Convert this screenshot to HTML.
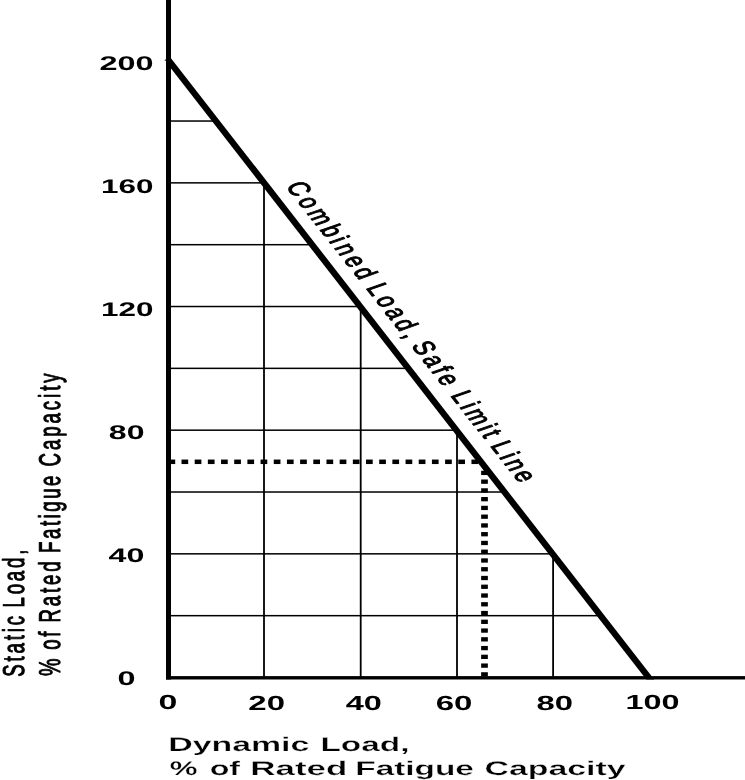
<!DOCTYPE html>
<html lang="en">
<head>
<meta charset="utf-8">
<title>Combined Load, Safe Limit Line</title>
<style>
html,body{margin:0;padding:0;background:#fff;}
body{width:745px;height:780px;overflow:hidden;font-family:"Liberation Sans",Arial,Helvetica,sans-serif;}
svg{display:block;}
text{white-space:pre;text-rendering:geometricPrecision;}
</style>
</head>
<body>
<svg width="745" height="780" viewBox="0 0 745 780">
<defs><clipPath id="plot"><rect x="166.0" y="0" width="579.0" height="679.5"/></clipPath></defs>
<rect x="0" y="0" width="745" height="780" fill="#fff"/>
<g fill="#000">
<rect x="170.00" y="614.92" width="430.65" height="1.5"/>
<rect x="170.00" y="553.09" width="382.56" height="1.5"/>
<rect x="170.00" y="491.26" width="334.46" height="1.5"/>
<rect x="170.00" y="429.43" width="286.36" height="1.5"/>
<rect x="170.00" y="367.60" width="238.26" height="1.5"/>
<rect x="170.00" y="305.77" width="190.17" height="1.5"/>
<rect x="170.00" y="243.94" width="142.07" height="1.5"/>
<rect x="170.00" y="182.11" width="93.97" height="1.5"/>
<rect x="170.00" y="120.28" width="45.88" height="1.5"/>
<rect x="263.10" y="182.90" width="1.8" height="494.20"/>
<rect x="359.80" y="307.21" width="1.8" height="369.89"/>
<rect x="456.10" y="431.00" width="1.8" height="246.10"/>
<rect x="552.20" y="554.54" width="1.8" height="122.56"/>
<rect x="166.0" y="0" width="5.0" height="679.5"/>
<rect x="166.0" y="676.1" width="579.0" height="3.40"/>
<rect x="164.8" y="59.6" width="2" height="1.1"/>
</g>
<g clip-path="url(#plot)"><line x1="167.70" y1="59.10" x2="651.75" y2="681.36" stroke="#000" stroke-width="6.35"/></g>
<g fill="#000">
<rect x="170.0" y="459.55" width="5.20" height="4.5"/>
<rect x="181.50" y="459.55" width="6.7" height="4.5"/>
<rect x="194.68" y="459.55" width="6.7" height="4.5"/>
<rect x="207.86" y="459.55" width="6.7" height="4.5"/>
<rect x="221.04" y="459.55" width="6.7" height="4.5"/>
<rect x="234.22" y="459.55" width="6.7" height="4.5"/>
<rect x="247.40" y="459.55" width="6.7" height="4.5"/>
<rect x="260.58" y="459.55" width="6.7" height="4.5"/>
<rect x="273.76" y="459.55" width="6.7" height="4.5"/>
<rect x="286.94" y="459.55" width="6.7" height="4.5"/>
<rect x="300.12" y="459.55" width="6.7" height="4.5"/>
<rect x="313.30" y="459.55" width="6.7" height="4.5"/>
<rect x="326.48" y="459.55" width="6.7" height="4.5"/>
<rect x="339.66" y="459.55" width="6.7" height="4.5"/>
<rect x="352.84" y="459.55" width="6.7" height="4.5"/>
<rect x="366.02" y="459.55" width="6.7" height="4.5"/>
<rect x="379.20" y="459.55" width="6.7" height="4.5"/>
<rect x="392.38" y="459.55" width="6.7" height="4.5"/>
<rect x="405.56" y="459.55" width="6.7" height="4.5"/>
<rect x="418.74" y="459.55" width="6.7" height="4.5"/>
<rect x="431.92" y="459.55" width="6.7" height="4.5"/>
<rect x="445.10" y="459.55" width="6.7" height="4.5"/>
<rect x="458.28" y="459.55" width="6.7" height="4.5"/>
<rect x="471.46" y="459.55" width="6.7" height="4.5"/>
<rect x="481.15" y="470.74" width="6.7" height="4.3"/>
<rect x="481.15" y="479.50" width="6.7" height="4.3"/>
<rect x="481.15" y="488.26" width="6.7" height="4.3"/>
<rect x="481.15" y="497.02" width="6.7" height="4.3"/>
<rect x="481.15" y="505.78" width="6.7" height="4.3"/>
<rect x="481.15" y="514.54" width="6.7" height="4.3"/>
<rect x="481.15" y="523.30" width="6.7" height="4.3"/>
<rect x="481.15" y="532.06" width="6.7" height="4.3"/>
<rect x="481.15" y="540.82" width="6.7" height="4.3"/>
<rect x="481.15" y="549.58" width="6.7" height="4.3"/>
<rect x="481.15" y="558.34" width="6.7" height="4.3"/>
<rect x="481.15" y="567.10" width="6.7" height="4.3"/>
<rect x="481.15" y="575.86" width="6.7" height="4.3"/>
<rect x="481.15" y="584.62" width="6.7" height="4.3"/>
<rect x="481.15" y="593.38" width="6.7" height="4.3"/>
<rect x="481.15" y="602.14" width="6.7" height="4.3"/>
<rect x="481.15" y="610.90" width="6.7" height="4.3"/>
<rect x="481.15" y="619.66" width="6.7" height="4.3"/>
<rect x="481.15" y="628.42" width="6.7" height="4.3"/>
<rect x="481.15" y="637.18" width="6.7" height="4.3"/>
<rect x="481.15" y="645.94" width="6.7" height="4.3"/>
<rect x="481.15" y="654.70" width="6.7" height="4.3"/>
<rect x="481.15" y="663.46" width="6.7" height="4.3"/>
<rect x="481.15" y="672.22" width="6.7" height="4.3"/>
</g>
<g font-family="'Liberation Sans', Arial, Helvetica, sans-serif" fill="#000">
<g font-size="19.8" font-weight="700">
<text transform="translate(99.57 69.50) scale(1.6370 1)">200</text>
<text transform="translate(100.92 192.70) scale(1.5888 1)">160</text>
<text transform="translate(100.92 315.90) scale(1.5888 1)">120</text>
<text transform="translate(108.87 439.00) scale(1.6187 1)">80</text>
<text transform="translate(108.62 562.30) scale(1.6309 1)">40</text>
<text transform="translate(117.60 685.20) scale(1.6374 1)">0</text>
</g>
<g font-size="20.4" font-weight="700">
<text transform="translate(158.44 709.30) scale(1.6615 1)">0</text>
<text transform="translate(248.35 709.60) scale(1.6135 1)">20</text>
<text transform="translate(345.71 709.60) scale(1.5922 1)">40</text>
<text transform="translate(435.68 709.60) scale(1.6166 1)">60</text>
<text transform="translate(536.55 709.60) scale(1.6088 1)">80</text>
<text transform="translate(625.46 709.30) scale(1.5859 1)">100</text>
</g>
<g font-size="19.6" font-weight="700">
<text transform="translate(168.21 751.30) scale(1.7282 1)" stroke="#fff" stroke-width="0.25">Dynamic</text>
<text transform="translate(320.45 751.30) scale(1.7046 1)" stroke="#fff" stroke-width="0.25">Load,</text>
<text transform="translate(169.72 774.80) scale(1.5951 1)" stroke="#fff" stroke-width="0.25">%</text>
<text transform="translate(209.64 774.80) scale(1.6432 1)" stroke="#fff" stroke-width="0.25">of</text>
<text transform="translate(250.24 774.80) scale(1.7825 1)" stroke="#fff" stroke-width="0.25">Rated</text>
<text transform="translate(355.25 774.80) scale(1.7030 1)" stroke="#fff" stroke-width="0.25">Fatigue</text>
<text transform="translate(484.50 774.80) scale(1.7258 1)" stroke="#fff" stroke-width="0.25">Capacity</text>
</g>
<g font-size="19.4" stroke="#000" stroke-width="0.7" stroke-linejoin="round">
<text transform="translate(24.2 676.82) rotate(-90) scale(0.9600 1.55)" letter-spacing="2.977">Static</text>
<text transform="translate(24.2 607.49) rotate(-90) scale(0.9600 1.55)" letter-spacing="2.947">Load,</text>
<text transform="translate(60.2 676.05) rotate(-90) scale(1.0139 1.55)" letter-spacing="0.000">%</text>
<text transform="translate(60.2 649.85) rotate(-90) scale(0.9600 1.55)" letter-spacing="2.978">of</text>
<text transform="translate(60.2 622.49) rotate(-90) scale(0.9600 1.55)" letter-spacing="2.984">Rated</text>
<text transform="translate(60.2 552.89) rotate(-90) scale(0.9600 1.55)" letter-spacing="2.633">Fatigue</text>
<text transform="translate(60.2 466.51) rotate(-90) scale(0.9600 1.55)" letter-spacing="3.073">Capacity</text>
</g>
<g transform="translate(285.2 186.1) scale(1.5 1) rotate(62.27) scale(0.96 1.04)" font-size="19.4" stroke="#000" stroke-width="0.85" stroke-linejoin="round">
<text x="0.00" y="0" letter-spacing="3.250">Combined</text>
<text x="119.70" y="0" letter-spacing="3.000">Load,</text>
<text x="187.50" y="0" letter-spacing="3.000">Safe</text>
<text x="246.10" y="0" letter-spacing="2.700">Limit</text>
<text x="305.40" y="0" letter-spacing="2.630">Line</text>
</g>
</g>
</svg>
</body>
</html>
